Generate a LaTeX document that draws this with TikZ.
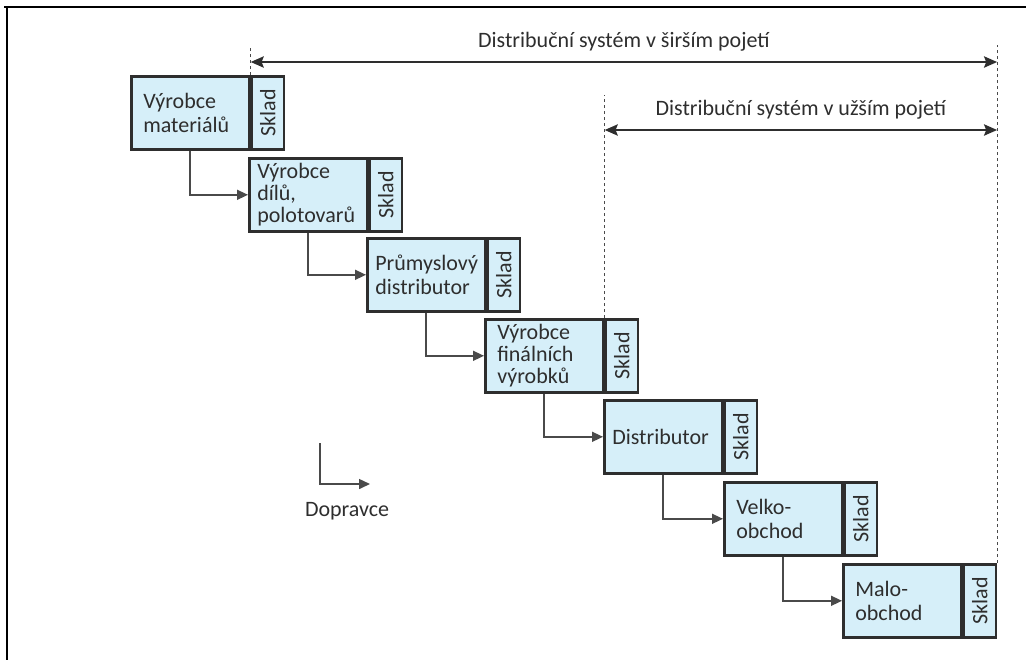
\documentclass[tikz,border=0pt]{standalone}
\usepackage{fontspec}
\setmainfont{Carlito}
\usetikzlibrary{arrows.meta}
\definecolor{boxfill}{HTML}{D6EFF9}
\definecolor{ink}{HTML}{2E2E2E}
\definecolor{conncol}{HTML}{4A4A4A}
\begin{document}
\begin{tikzpicture}[x=0.5pt,y=-0.5pt,
  font=\fontsize{11}{12}\selectfont, text=ink,
  mainbox/.style={draw=ink, fill=boxfill, line width=1.3pt, anchor=north west,
    minimum height=36.5pt, text width=51pt, inner xsep=4pt, inner ysep=0pt, align=left},
  threeline/.style={font=\fontsize{11}{11}\selectfont},
  skladbox/.style={draw=ink, fill=boxfill, line width=1.3pt, anchor=north west,
    minimum height=36.5pt, minimum width=16pt, inner sep=0pt},
  conn/.style={draw=conncol, line width=0.75pt, -{Triangle[length=5.5pt,width=5pt]}},
  dimarrow/.style={draw=ink, line width=1.4pt, {Stealth[length=6.5pt,width=5.5pt,inset=1pt]}-{Stealth[length=6.5pt,width=5.5pt,inset=1pt]}},
  dashline/.style={draw=conncol, line width=0.7pt, dash pattern=on 1.5pt off 1.5pt},
  frameline/.style={draw=black, line width=1pt}
]
\useasboundingbox (0,0) rectangle (1026,660);
\draw[frameline] (4,7) -- (1026,7);
\draw[frameline] (7,7) -- (7,660);

% boxes
\node[mainbox] (m1) at (130,75) {\hspace*{2pt}Výrobce\\\hspace*{2pt}materiálů};
\node[skladbox] (s1) at (m1.north east) {\rotatebox{90}{Sklad}};
\node[mainbox, threeline] (m2) at (248,157) {\raisebox{0pt}[7.5pt]{Výrobce}\\dílů,\\polotovarů};
\node[skladbox] (s2) at (m2.north east) {\rotatebox{90}{Sklad}};
\node[mainbox] (m3) at (366,237) {Průmyslový\\distributor};
\node[skladbox] (s3) at (m3.north east) {\rotatebox{90}{Sklad}};
\node[mainbox, threeline] (m4) at (484,318) {\hspace*{2pt}\raisebox{0pt}[7.5pt]{Výrobce}\\\hspace*{2pt}finálních\\\hspace*{2pt}výrobků};
\node[skladbox] (s4) at (m4.north east) {\rotatebox{90}{Sklad}};
\node[mainbox] (m5) at (603,399) {Distributor};
\node[skladbox] (s5) at (m5.north east) {\rotatebox{90}{Sklad}};
\node[mainbox] (m6) at (723,481) {\hspace*{2pt}Velko-\\\hspace*{2pt}obchod};
\node[skladbox] (s6) at (m6.north east) {\rotatebox{90}{Sklad}};
\node[mainbox] (m7) at (842,563) {\hspace*{2pt}Malo-\\\hspace*{2pt}obchod};
\node[skladbox] (s7) at (m7.north east) {\rotatebox{90}{Sklad}};

% connectors
\draw[conn] ([xshift=30pt]m1.south west) |- (m2.west);
\draw[conn] ([xshift=30pt]m2.south west) |- (m3.west);
\draw[conn] ([xshift=30pt]m3.south west) |- (m4.west);
\draw[conn] ([xshift=30pt]m4.south west) |- (m5.west);
\draw[conn] ([xshift=30pt]m5.south west) |- (m6.west);
\draw[conn] ([xshift=30pt]m6.south west) |- (m7.west);

% dimension lines
\coordinate (wl) at (s1.north west |- 0,45);
\coordinate (wr) at (s7.north east |- 0,45);
\coordinate (nl) at (s4.north west |- 0,95);
\draw[dashline] (s1.north west) -- (wl);
\draw[dashline] (s7.north east) -- (wr);
\draw[dashline] (s4.north west) -- (nl);
\coordinate (wa) at (s1.north west |- 0,62);
\coordinate (wb) at (s7.north east |- 0,62);
\coordinate (na) at (s4.north west |- 0,130);
\coordinate (nb) at (s7.north east |- 0,130);
\draw[dimarrow] (wa) -- node[above=1.5pt] (wlabel) {Distribuční systém v širším pojetí} (wb);
\draw[dimarrow] (na) -- node[above=1.5pt] (nlabel) {Distribuční systém v užším pojetí} (nb);

% legend
\coordinate (lega) at (320,443);
\coordinate (legb) at (370,484);
\draw[conn] (lega) |- (legb);
\node (dop) at (347,511) {Dopravce};
\end{tikzpicture}
\end{document}
